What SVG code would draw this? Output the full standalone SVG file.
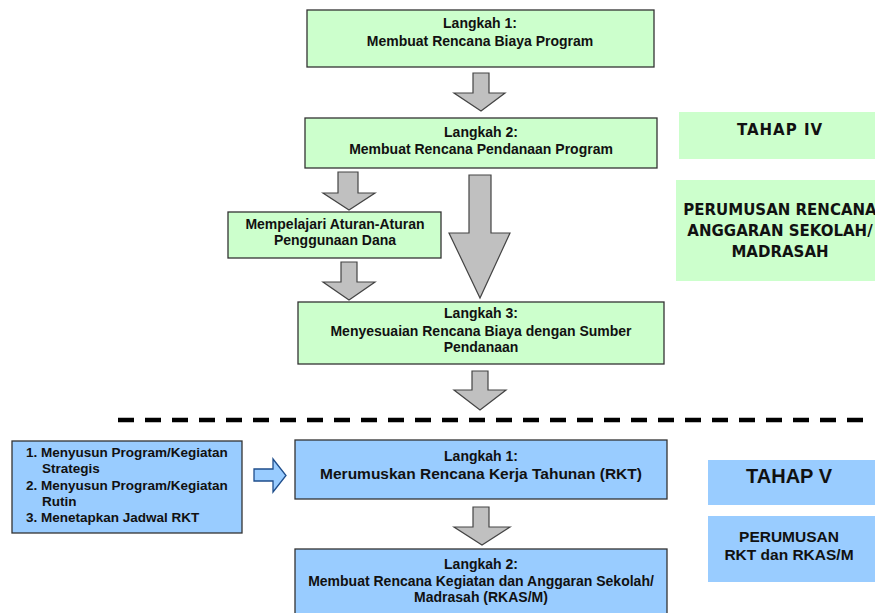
<svg xmlns="http://www.w3.org/2000/svg" width="875" height="613" viewBox="0 0 875 613">
<style>
.g{fill:#ccffcc;stroke:#333;stroke-width:1.3}
.gl{fill:#ccffcc}
.b{fill:#99ccff;stroke:#333;stroke-width:1.3}
.bl{fill:#99ccff}
.ar{fill:#c0c0c0;stroke:#444;stroke-width:1.2;stroke-linejoin:miter}
.t{font-family:"Liberation Sans",Arial,sans-serif;font-weight:bold;font-size:14px;fill:#111;text-anchor:middle}
.tl{font-family:"Liberation Sans",Arial,sans-serif;font-weight:bold;font-size:13.5px;fill:#111}
.v{font-family:"DejaVu Sans",Verdana,sans-serif;font-weight:bold;font-size:15px;fill:#111;text-anchor:middle}
</style>
<rect width="875" height="613" fill="#fff"/>

<g id="connectors">
  <polygon class="ar" points="473,73 489,73 489,93 505,93 481,111 454,93 473,93"/>
  <polygon class="ar" points="338,172 358,172 358,193 375,193 349,210 323,193 338,193"/>
  <polygon class="ar" points="469,175 491,175 491,233 510,233 480,298 449,233 469,233"/>
  <polygon class="ar" points="341,262 357,262 357,282 375,282 349,300 323,282 341,282"/>
  <polygon class="ar" points="472,371 488,371 488,390 506,390 480,410 454,390 472,390"/>
  <polygon class="ar" points="473,507 489,507 489,527 510,527 482,545 454,527 473,527"/>
  <polygon points="254,469 273,469 273,459 286,475.5 273,492 273,481 254,481" fill="#99ccff" stroke="#1f4e8c" stroke-width="1.3"/>
  <line x1="118" y1="420" x2="863" y2="420" stroke="#000" stroke-width="4.5" stroke-dasharray="16 11"/>
</g>

<g id="step1">
  <rect class="g" x="307" y="10" width="347" height="57"/>
  <text class="t" x="480" y="28">Langkah 1:</text>
  <text class="t" x="480" y="46">Membuat Rencana Biaya Program</text>
</g>
<g id="step2">
  <rect class="g" x="305" y="118" width="352" height="50"/>
  <text class="t" x="481" y="137">Langkah 2:</text>
  <text class="t" x="481" y="154">Membuat Rencana Pendanaan Program</text>
</g>
<g id="aturan">
  <rect class="g" x="228" y="212" width="213" height="46"/>
  <text class="t" x="335" y="229">Mempelajari Aturan-Aturan</text>
  <text class="t" x="335" y="245">Penggunaan Dana</text>
</g>
<g id="step3">
  <rect class="g" x="298" y="302" width="366" height="62"/>
  <text class="t" x="481" y="318">Langkah 3:</text>
  <text class="t" x="481" y="336">Menyesuaian Rencana Biaya dengan Sumber</text>
  <text class="t" x="481" y="352">Pendanaan</text>
</g>
<g id="tahap4">
  <rect class="gl" x="679" y="112" width="200" height="47"/>
  <text class="v" x="780" y="135" letter-spacing="1">TAHAP IV</text>
</g>
<g id="perumusan4">
  <rect class="gl" x="676" y="180" width="203" height="101"/>
  <text class="v" x="780" y="215">PERUMUSAN RENCANA</text>
  <text class="v" x="780" y="236">ANGGARAN SEKOLAH/</text>
  <text class="v" x="780" y="257">MADRASAH</text>
</g>

<g id="list">
  <rect class="b" x="12" y="441" width="230" height="92"/>
  <text class="tl" x="26" y="457">1. Menyusun Program/Kegiatan</text>
  <text class="tl" x="42" y="473">Strategis</text>
  <text class="tl" x="26" y="490">2. Menyusun Program/Kegiatan</text>
  <text class="tl" x="42" y="506">Rutin</text>
  <text class="tl" x="26" y="522">3. Menetapkan Jadwal RKT</text>
</g>
<g id="rkt">
  <rect class="b" x="295" y="440" width="372" height="59"/>
  <text class="t" x="481" y="461">Langkah 1:</text>
  <text class="t" x="481" y="479" style="font-size:15.5px">Merumuskan Rencana Kerja Tahunan (RKT)</text>
</g>
<g id="rkas">
  <rect class="b" x="295" y="549" width="372" height="70"/>
  <text class="t" x="481" y="569">Langkah 2:</text>
  <text class="t" x="481" y="586">Membuat Rencana Kegiatan dan Anggaran Sekolah/</text>
  <text class="t" x="481" y="602">Madrasah (RKAS/M)</text>
</g>
<g id="tahap5">
  <rect class="bl" x="708" y="460" width="171" height="45"/>
  <text class="t" x="789" y="483" style="font-size:20px">TAHAP V</text>
</g>
<g id="perumusan5">
  <rect class="bl" x="708" y="516" width="171" height="66"/>
  <text class="t" x="789" y="542" style="font-size:15.5px">PERUMUSAN</text>
  <text class="t" x="789" y="560" style="font-size:15.5px">RKT dan RKAS/M</text>
</g>
</svg>
